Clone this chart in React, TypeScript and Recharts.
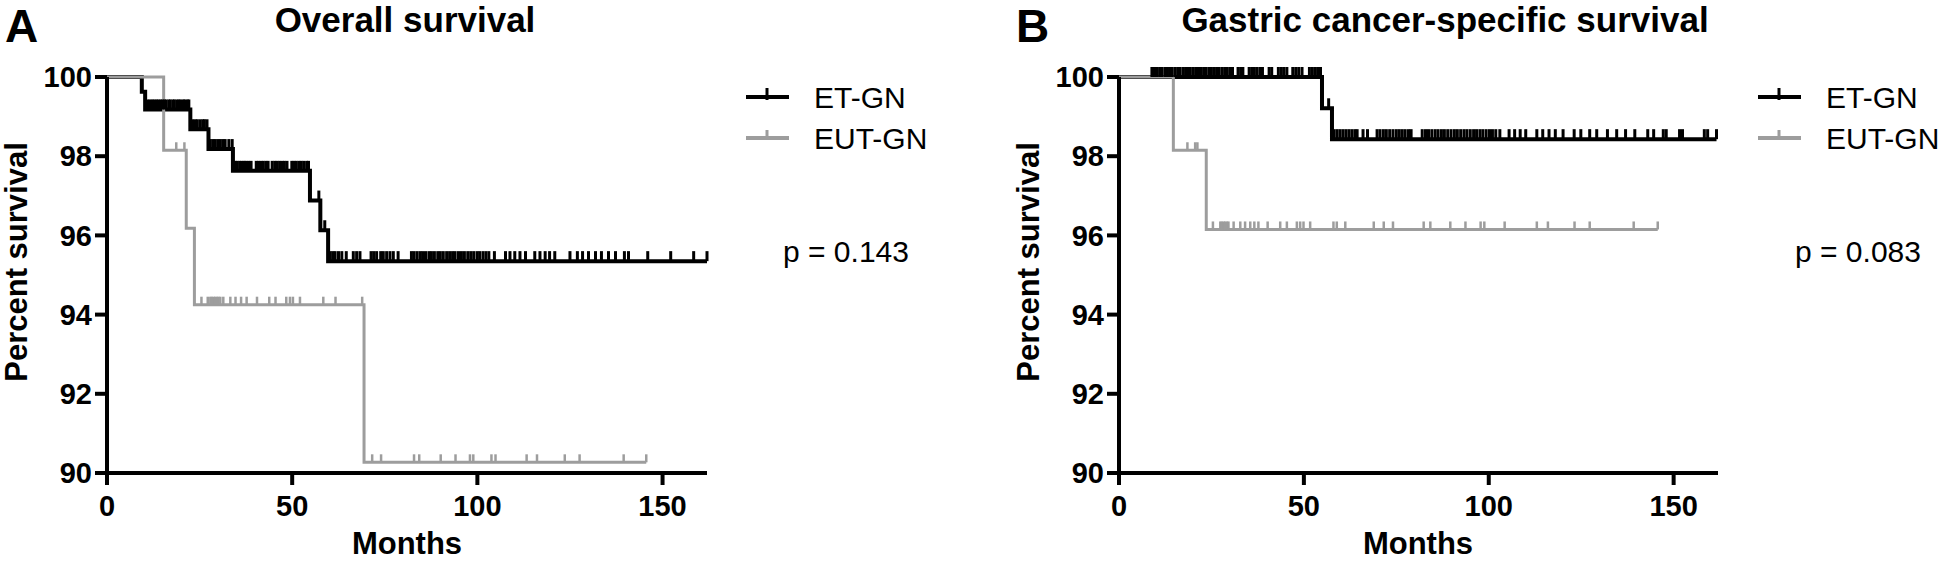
import { Line, LineChart, XAxis, YAxis } from 'recharts';

const FONT = "'Liberation Sans', Arial, Helvetica, sans-serif";

const xTicks = [0, 50, 100, 150];
const yTicks = [90, 92, 94, 96, 98, 100];

// A - overall survival, ET-GN
const osEtTimes = [0, 9.4, 10.3, 22.5, 27.4, 34.0, 54.8, 57.6, 59.7];
const osEtSurv = [100, 99.63, 99.18, 98.68, 98.18, 97.63, 96.88, 96.13, 95.35];
const osEtCensored = [
  11.0, 11.6, 12.2, 12.7, 13.3, 13.8, 14.4, 14.9, 15.5, 16.0, 16.7, 17.1, 17.8, 18.2, 18.9, 19.4,
  19.9, 20.6, 21.0, 21.7, 22.1,
  23.1, 23.8, 24.4, 25.2, 25.9, 26.3, 27.0,
  27.9, 28.6, 29.2, 29.9, 30.6, 31.3, 31.9, 32.9, 33.8,
  34.6, 35.1, 35.8, 36.4, 37.0, 37.5, 38.2, 38.9, 40.3, 40.9, 41.6, 42.2, 42.9, 43.5, 44.6, 45.3,
  45.9, 46.6, 47.3, 47.9, 48.6, 49.9, 50.5, 51.1, 51.8, 52.4, 53.1, 53.9, 54.4,
  57.2, 58.8,
  60.3, 61.0, 61.6, 62.5, 63.4, 64.6, 66.5, 67.4, 68.3, 71.3, 72.0, 72.8, 73.9, 74.6, 75.5, 76.4,
  77.3, 78.6, 82.2, 82.9, 83.7, 84.5, 85.2, 86.0, 86.9, 87.6, 88.4, 89.3, 90.0, 90.8, 91.7, 92.5,
  93.3, 94.0, 94.9, 95.7, 96.5, 97.4, 98.2, 99.0, 99.9, 100.6, 101.5, 102.3, 103.1, 104.6, 107.6,
  108.8, 110.1, 111.5, 113.0, 115.5, 116.9, 118.3, 119.5, 120.9, 125.0, 127.0, 128.4, 130.0,
  131.9, 133.5, 135.4, 137.3, 139.7, 140.8, 146.0, 152.2, 158.4, 162.0,
];

// A - overall survival, EUT-GN
const osEutTimes = [0, 15.3, 21.4, 23.6, 69.4];
const osEutSurv = [100, 98.15, 96.18, 94.25, 90.27];
const osEutCensored = [
  18.7, 20.9,
  25.5, 27.2, 27.9, 28.3, 28.8, 29.2, 29.7, 30.1, 30.6, 31.4, 33.3, 34.7, 36.2, 37.7, 40.5, 43.8,
  45.5, 48.4, 49.4, 50.2, 52.1, 58.4, 61.7, 68.9,
  71.6, 74.0, 82.9, 84.3, 90.1, 94.1, 98.0, 98.9, 103.8, 104.9, 113.3, 116.1, 123.6, 127.6, 139.5,
  145.6,
];

// B - gastric cancer-specific survival, ET-GN
const gcEtTimes = [0, 54.9, 57.6];
const gcEtSurv = [100, 99.21, 98.43];
const gcEtCensored = [
  8.9, 9.6, 10.3, 11.0, 11.6, 12.4, 13.1, 13.7, 14.4, 15.2, 15.9, 16.5, 17.3, 18.0, 18.7, 19.3,
  20.1, 20.8, 21.5, 22.2, 22.9, 23.6, 24.4, 25.0, 25.8, 26.5, 27.1, 27.9, 28.6, 29.3, 30.1, 30.7,
  32.2, 32.9, 33.5, 35.2, 35.9, 36.6, 37.3, 38.1, 38.8, 40.6, 41.3, 43.1, 43.9, 44.6, 45.4, 47.0,
  47.8, 48.6, 49.5, 51.5, 52.3, 53.1, 53.8, 54.5,
  56.7,
  58.2, 59.0, 59.8, 60.6, 61.4, 62.2, 63.0, 63.8, 64.4, 66.0, 67.2, 69.8, 70.6, 71.5, 72.3, 73.2,
  74.1, 75.0, 75.8, 76.6, 77.4, 78.3, 79.0, 82.0, 82.9, 83.7, 84.6, 85.5, 86.3, 87.2, 88.0, 88.9,
  89.8, 90.7, 91.5, 92.4, 93.3, 94.1, 95.0, 95.9, 96.7, 97.6, 98.4, 99.3, 100.2, 101.0, 101.9,
  103.0, 105.5, 107.0, 108.5, 110.0, 113.0, 114.6, 116.3, 118.0, 120.1, 123.1, 124.9, 127.3, 129.2,
  132.1, 134.6, 137.0, 139.5, 143.0, 144.6, 147.2, 148.0, 151.6, 152.4, 158.3, 159.2, 161.6,
];

// B - gastric cancer-specific survival, EUT-GN
const gcEutTimes = [0, 14.7, 23.6];
const gcEutSurv = [100, 98.15, 96.15];
const gcEutCensored = [
  18.5, 20.6, 21.2,
  25.4, 27.4, 27.8, 28.3, 28.7, 29.2, 29.6, 31.0, 32.8, 34.1, 35.5, 36.6, 37.7, 40.2, 43.6, 45.4,
  48.1, 49.0, 49.9, 51.7, 58.0, 58.9, 61.2, 68.9, 71.6, 74.1, 82.4, 84.2, 89.6, 93.7, 97.8, 98.8,
  104.3, 113.0, 116.0, 123.2, 127.3, 139.2, 145.7,
];

interface KmPoint {
  t: number;
  s: number;
  c: boolean;
}

function kmData(times: number[], surv: number[], censored: number[]): KmPoint[] {
  const pts: KmPoint[] = times.map((t, i) => ({ t, s: surv[i], c: false }));
  censored.forEach((t) => {
    let s = surv[0];
    times.forEach((et, i) => {
      if (et <= t) s = surv[i];
    });
    pts.push({ t, s, c: true });
  });
  return pts.sort((a, b) => a.t - b.t);
}

const censorDot = (color: string, w: number, h: number) => (props: any) => {
  const { cx, cy, payload, index } = props;
  if (!payload || !payload.c || cx == null || cy == null) return <g key={`n-${index}`} />;
  return (
    <line
      key={`c-${index}`}
      x1={cx}
      x2={cx}
      y1={cy}
      y2={cy - h}
      stroke={color}
      strokeWidth={w}
    />
  );
};

const tickStyle = { fill: '#000', fontSize: 29, fontWeight: 700, fontFamily: FONT };
const axisStyle = { stroke: '#000', strokeWidth: 4 };

function SurvivalPanel({
  et,
  eut,
  width,
  right,
}: {
  et: KmPoint[];
  eut: KmPoint[];
  width: number;
  right: number;
}) {
  return (
    <LineChart width={width} height={563} margin={{ top: 77, right, bottom: 20, left: 7 }}>
      <XAxis
        type="number"
        dataKey="t"
        domain={[0, 162]}
        ticks={xTicks}
        height={70}
        tickSize={12}
        tickMargin={10}
        axisLine={axisStyle}
        tickLine={axisStyle}
        tick={tickStyle}
      />
      <YAxis
        type="number"
        domain={[90, 100]}
        ticks={yTicks}
        width={100}
        tickSize={12}
        tickMargin={3}
        axisLine={axisStyle}
        tickLine={axisStyle}
        tick={tickStyle}
      />
      <Line
        data={et}
        dataKey="s"
        type="stepAfter"
        stroke="#000"
        strokeWidth={4}
        dot={censorDot('#000', 3, 10)}
        activeDot={false}
        isAnimationActive={false}
      />
      <Line
        data={eut}
        dataKey="s"
        type="stepAfter"
        stroke="#9d9d9d"
        strokeWidth={3}
        dot={censorDot('#9d9d9d', 2.5, 8)}
        activeDot={false}
        isAnimationActive={false}
      />
    </LineChart>
  );
}

function Legend({ x, p }: { x: number; p: string }) {
  return (
    <g fontFamily={FONT} fontSize={30} fill="#000">
      <line x1={x} x2={x + 43} y1={97} y2={97} stroke="#000" strokeWidth={4} />
      <line x1={x + 21} x2={x + 21} y1={88} y2={100} stroke="#000" strokeWidth={3} />
      <text x={x + 68} y={108}>ET-GN</text>
      <line x1={x} x2={x + 43} y1={138} y2={138} stroke="#9d9d9d" strokeWidth={4} />
      <line x1={x + 21} x2={x + 21} y1={130} y2={138} stroke="#9d9d9d" strokeWidth={3} />
      <text x={x + 68} y={149}>EUT-GN</text>
      <text x={x + 37} y={262}>{p}</text>
    </g>
  );
}

export default function App() {
  const osEt = kmData(osEtTimes, osEtSurv, osEtCensored);
  const osEut = kmData(osEutTimes, osEutSurv, osEutCensored);
  const gcEt = kmData(gcEtTimes, gcEtSurv, gcEtCensored);
  const gcEut = kmData(gcEutTimes, gcEutSurv, gcEutCensored);

  return (
    <div style={{ position: 'absolute', left: 0, top: 0, width: 1946, height: 563, background: '#fff' }}>
      <div style={{ position: 'absolute', left: 0, top: 0 }}>
        <SurvivalPanel et={osEt} eut={osEut} width={973} right={266} />
      </div>
      <div style={{ position: 'absolute', left: 1012, top: 0 }}>
        <SurvivalPanel et={gcEt} eut={gcEut} width={934} right={228} />
      </div>
      <svg
        width={1946}
        height={563}
        style={{ position: 'absolute', left: 0, top: 0, pointerEvents: 'none' }}
      >
        <g fontFamily={FONT} fontWeight={700} fill="#000">
          <text x={5} y={42} fontSize={46}>A</text>
          <text x={1016} y={42} fontSize={46}>B</text>
          <text x={405} y={32} fontSize={35} textAnchor="middle">Overall survival</text>
          <text x={1445} y={32} fontSize={35} textAnchor="middle">Gastric cancer-specific survival</text>
          <text x={407} y={554} fontSize={31} textAnchor="middle">Months</text>
          <text x={1418} y={554} fontSize={31} textAnchor="middle">Months</text>
          <text x={27} y={262} fontSize={31} textAnchor="middle" transform="rotate(-90 27 262)">
            Percent survival
          </text>
          <text x={1039} y={262} fontSize={31} textAnchor="middle" transform="rotate(-90 1039 262)">
            Percent survival
          </text>
        </g>
        <Legend x={746} p="p = 0.143" />
        <Legend x={1758} p="p = 0.083" />
      </svg>
    </div>
  );
}
